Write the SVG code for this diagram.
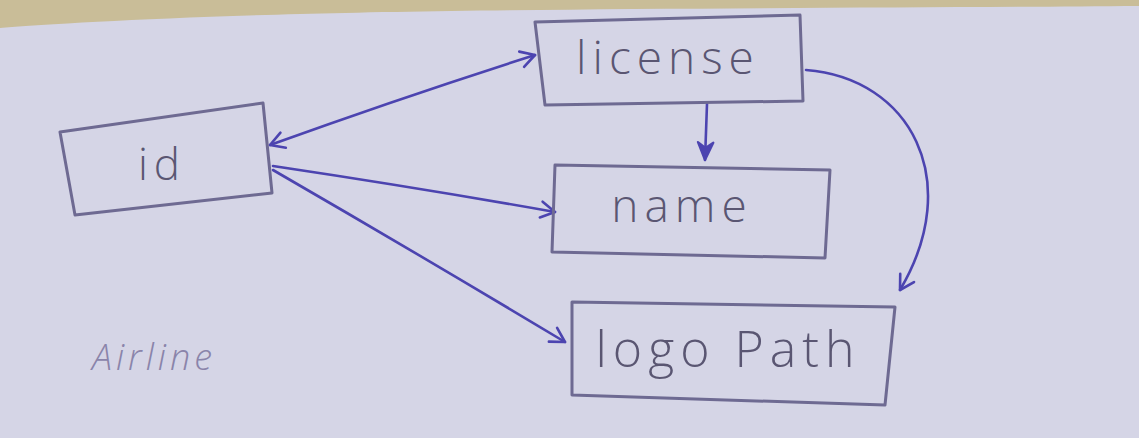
<svg xmlns="http://www.w3.org/2000/svg" width="1139" height="438" viewBox="0 0 1139 438">
<defs>
<style>
.box{fill:none;stroke:#6e6a92;stroke-width:3;stroke-linejoin:round}
.lbl{font-family:"Open Sans","DejaVu Sans",sans-serif;font-weight:300;fill:#5a5672;text-anchor:middle;letter-spacing:6px}
.edge{fill:none;stroke:#4c44b0;stroke-width:2.6;stroke-linecap:round}
</style>
<marker id="ah" viewBox="0 0 20 20" refX="18" refY="10" markerWidth="20" markerHeight="20" markerUnits="userSpaceOnUse" orient="auto-start-reverse">
<path d="M4,2 L18,10 L4,18" fill="none" stroke="#4c44b0" stroke-width="2.6" stroke-linecap="round" stroke-linejoin="round"/>
</marker>
<marker id="ahf" viewBox="0 0 20 20" refX="18" refY="10" markerWidth="22" markerHeight="22" markerUnits="userSpaceOnUse" orient="auto">
<path d="M2,3 L18,10 L2,17 L7,10 Z" fill="#4c44b0" stroke="#4c44b0" stroke-width="2" stroke-linejoin="round"/>
</marker>
</defs>
<rect x="0" y="0" width="1139" height="438" fill="#d5d5e6"/>
<path d="M0,0 H1139 V6 C900,8 500,8 300,14 C150,18 50,24 0,28 Z" fill="#c9bd98"/>
<g id="connectors">
<path class="edge" d="M270,145 Q400,98 535,55" marker-start="url(#ah)" marker-end="url(#ah)"/>
<path class="edge" d="M273,166 Q420,188 555,212" marker-end="url(#ah)"/>
<path class="edge" d="M273,170 Q420,255 565,342" marker-end="url(#ah)"/>
<path class="edge" d="M707,104 L705,160" marker-end="url(#ahf)"/>
<path class="edge" d="M806,70 C910,78 965,180 900,290" marker-end="url(#ah)"/>
</g>
<g id="node-id">
<path class="box" d="M60,132 L263,103 L272,193 L75,215 Z"/>
<text class="lbl" x="162" y="180" font-size="44">id</text>
</g>
<g id="node-license">
<path class="box" d="M535,22 L800,15 L803,101 L545,105 Z"/>
<text class="lbl" x="668" y="74" font-size="46">license</text>
</g>
<g id="node-name">
<path class="box" d="M555,165 L830,170 L825,258 L552,252 Z"/>
<text class="lbl" x="682" y="222" font-size="46">name</text>
</g>
<g id="node-logoPath">
<path class="box" d="M572,302 L895,307 L885,405 L572,395 Z"/>
<text class="lbl" x="728" y="367" font-size="50">logo Path</text>
</g>
<text x="92" y="370" font-family="'Open Sans','DejaVu Sans',sans-serif" font-weight="300" font-style="italic" font-size="36" fill="#8a84aa" letter-spacing="4">Airline</text>
</svg>
